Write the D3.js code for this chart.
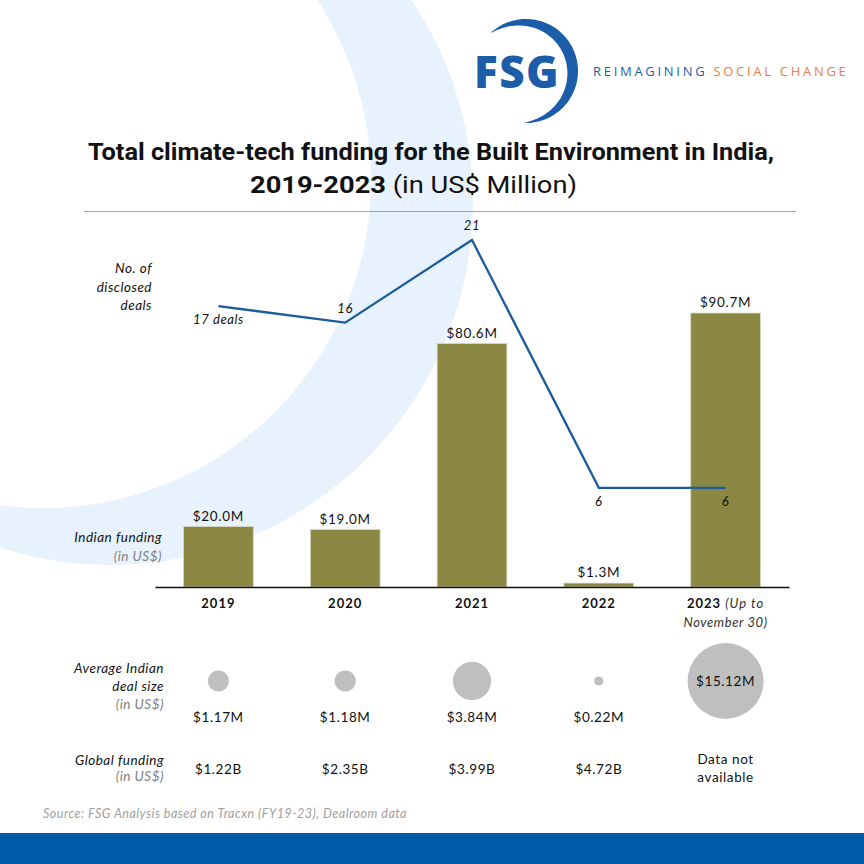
<!DOCTYPE html>
<html><head><meta charset="utf-8">
<script src="https://cdn.jsdelivr.net/npm/d3@7"></script>
<style>body{margin:0;background:#fff} svg{display:block}</style>
</head><body>
<svg id="c" width="864" height="864"></svg>
<script>
// ---------- DATA ----------
const years = ["2019","2020","2021","2022","2023"];
const yearNotes = ["","","","","(Up to"];
const yearNotes2 = ["","","","","November 30)"];
const fundingM = [20.0, 19.0, 80.6, 1.3, 90.7];
const fundingLabels = ["$20.0M","$19.0M","$80.6M","$1.3M","$90.7M"];
const deals = [17, 16, 21, 6, 6];
const dealLabels = ["17 deals","16","21","6","6"];
const avgDealM = [1.17, 1.18, 3.84, 0.22, 15.12];
const avgDealLabels = ["$1.17M","$1.18M","$3.84M","$0.22M","$15.12M"];
const globalFunding = [["$1.22B"],["$2.35B"],["$3.99B"],["$4.72B"],["Data not","available"]];

// ---------- DRAW ----------
const svg = d3.select("#c");
const BODY = "Lato, 'Open Sans', sans-serif";

// background crescent
function circ(cx, cy, R){ return `M${cx-R},${cy}a${R},${R} 0 1,0 ${2*R},0a${R},${R} 0 1,0 ${-2*R},0Z`; }
svg.append("path").attr("d", circ(110,202,363) + circ(43,180,328))
  .attr("fill","#E8F2FC").attr("fill-rule","evenodd");

// logo
(function(){
  const g = svg.append("g");
  const cx = 526, cy = 71, R = 52;
  const t0 = -133*Math.PI/180, t1 = 92*Math.PI/180;
  const n = 80, outer = [], inner = [];
  for (let i = 0; i <= n; i++) {
    const f = i/n, t = t0 + (t1-t0)*f;
    const w = 11*Math.pow(Math.sin(Math.PI*f), 0.8);
    outer.push([cx + R*Math.cos(t), cy + R*Math.sin(t)]);
    inner.push([cx + (R-w)*Math.cos(t), cy + (R-w)*Math.sin(t)]);
  }
  const pts = outer.concat(inner.reverse());
  g.append("path").attr("d", d3.line()(pts) + "Z").attr("fill","#1B5DA8");
  g.append("text").attr("x",474).attr("y",88).text("FSG")
    .attr("font-family","'Open Sans', sans-serif").attr("font-weight",800)
    .attr("font-size",44).attr("fill","#1B5DA8").attr("letter-spacing",1.5);
  const t = g.append("text").attr("x",593).attr("y",76)
    .attr("font-family","'Open Sans', sans-serif").attr("font-size",13)
    .attr("letter-spacing",2.2).attr("textLength",255).attr("lengthAdjust","spacing");
  t.append("tspan").attr("fill","#1F5EA8").text("REIMAGINING ");
  t.append("tspan").attr("fill","#E8803F").text("SOCIAL CHANGE");
})();

// title
const t1 = svg.append("text").attr("x",88).attr("y",160)
  .attr("font-family","Roboto, sans-serif").attr("font-weight",700)
  .attr("font-size",23).attr("fill","#111")
  .text("Total climate-tech funding for the Built Environment in India,");
t1.attr("textLength",686).attr("lengthAdjust","spacingAndGlyphs");
const t2 = svg.append("text").attr("x",250).attr("y",193)
  .attr("font-family","Roboto, sans-serif").attr("font-size",23).attr("fill","#111");
t2.append("tspan").attr("font-weight",700).text("2019-2023");
t2.append("tspan").attr("font-weight",400).text(" (in US$ Million)");
t2.attr("textLength",327).attr("lengthAdjust","spacingAndGlyphs");
svg.append("line").attr("x1",84).attr("x2",796).attr("y1",211.5).attr("y2",211.5)
  .attr("stroke","#A6A6A6").attr("stroke-width",1);

// scales
const x = d3.scaleBand().domain(years).range([155,789]).paddingInner(0.45).paddingOuter(0.225);
const yBar = d3.scaleLinear().domain([0, 90.7]).range([587, 313]);
const yLine = d3.scaleLinear().domain([0, 21]).range([587, 240]);
const r = d3.scaleSqrt().domain([0, 15.12]).range([0, 38]);
const cxOf = y => x(y) + x.bandwidth()/2;

// bars
svg.append("g").selectAll("rect").data(years).join("rect")
  .attr("x", d => x(d)).attr("width", x.bandwidth())
  .attr("y", (d,i) => yBar(fundingM[i])).attr("height", (d,i) => yBar(0) - yBar(fundingM[i]))
  .attr("fill","#8B8843").attr("stroke","#D9D7C4").attr("stroke-width",0.8);

svg.append("g").selectAll("text").data(years).join("text")
  .attr("x", cxOf).attr("y", (d,i) => yBar(fundingM[i]) - 6)
  .attr("text-anchor","middle").attr("font-family",BODY).attr("font-size",13.5)
  .attr("letter-spacing",0.7).attr("fill","#111").text((d,i) => fundingLabels[i]);

// axis
const ax = svg.append("g").attr("transform","translate(0,587)")
  .call(d3.axisBottom(x).tickSize(0).tickFormat(""));
ax.select(".domain").attr("stroke","#111").attr("stroke-width",1.5);

const yl = svg.append("g").selectAll("text").data(years).join("text")
  .attr("x", cxOf).attr("y", 608).attr("text-anchor","middle")
  .attr("font-family",BODY).attr("font-size",13).attr("letter-spacing",1).attr("fill","#111");
yl.append("tspan").attr("font-weight",700).text(d => d);
yl.filter((d,i) => yearNotes[i]).append("tspan").attr("font-style","italic").attr("fill","#333")
  .text((d) => " " + yearNotes[years.indexOf(d)]);
svg.append("g").selectAll("text").data(years.filter((d,i) => yearNotes2[i])).join("text")
  .attr("x", cxOf).attr("y", 627).attr("text-anchor","middle")
  .attr("font-family",BODY).attr("font-size",13).attr("letter-spacing",0.6)
  .attr("font-style","italic").attr("fill","#333")
  .text(d => yearNotes2[years.indexOf(d)]);

// deals line
svg.append("path").datum(years)
  .attr("d", d3.line().x(cxOf).y((d,i) => yLine(deals[i])))
  .attr("fill","none").attr("stroke","#1D5C9C").attr("stroke-width",2.3);
const above = [false, true, true, false, false];
svg.append("g").selectAll("text").data(years).join("text")
  .attr("x", cxOf).attr("y", (d,i) => yLine(deals[i]) + (above[i] ? -10 : 18))
  .attr("text-anchor","middle").attr("font-family",BODY).attr("font-style","italic")
  .attr("font-size",13).attr("letter-spacing",0.6).attr("fill","#111")
  .text((d,i) => dealLabels[i]);

// row labels
function rowLabel(xr, lines){
  const g = svg.append("g");
  lines.forEach(([txt, y, gray]) => g.append("text").attr("x",xr).attr("y",y)
    .attr("text-anchor","end").attr("font-family",BODY).attr("font-style","italic")
    .attr("font-size",13.5).attr("letter-spacing",0.5)
    .attr("fill", gray ? "#7F7F7F" : "#111").text(txt));
}
rowLabel(152, [["No. of",273],["disclosed",292],["deals",310]]);
rowLabel(162, [["Indian funding",542],["(in US$)",561,true]]);
rowLabel(164, [["Average Indian",673],["deal size",691],["(in US$)",709,true]]);
rowLabel(164, [["Global funding",765],["(in US$)",781,true]]);

// avg deal size bubbles
svg.append("g").selectAll("circle").data(years).join("circle")
  .attr("cx", cxOf).attr("cy", 681).attr("r", (d,i) => r(avgDealM[i]))
  .attr("fill","#BFBFBF");
svg.append("g").selectAll("text").data(years).join("text")
  .attr("x", cxOf).attr("y", (d,i) => r(avgDealM[i]) > 30 ? 686 : 722)
  .attr("text-anchor","middle").attr("font-family",BODY).attr("font-size",13.5)
  .attr("letter-spacing",0.6).attr("fill","#111")
  .text((d,i) => avgDealLabels[i]);

// global funding
const gf = svg.append("g").selectAll("text").data(years).join("text")
  .attr("text-anchor","middle").attr("font-family",BODY).attr("font-size",13.5)
  .attr("letter-spacing",0.6).attr("fill","#111");
gf.each(function(d,i){
  const lines = globalFunding[i];
  const y0 = lines.length > 1 ? 764 : 774;
  lines.forEach((l,k) => d3.select(this).append("tspan").attr("x", cxOf(d)).attr("y", y0 + k*18).text(l));
});

// source
svg.append("text").attr("x",43).attr("y",818).attr("font-family",BODY)
  .attr("font-style","italic").attr("font-size",12.5).attr("letter-spacing",0.5)
  .attr("fill","#A0A0A0").text("Source: FSG Analysis based on Tracxn (FY19-23), Dealroom data");

// bottom band
svg.append("rect").attr("x",0).attr("y",833).attr("width",864).attr("height",31).attr("fill","#005BAA");
</script>
</body></html>
